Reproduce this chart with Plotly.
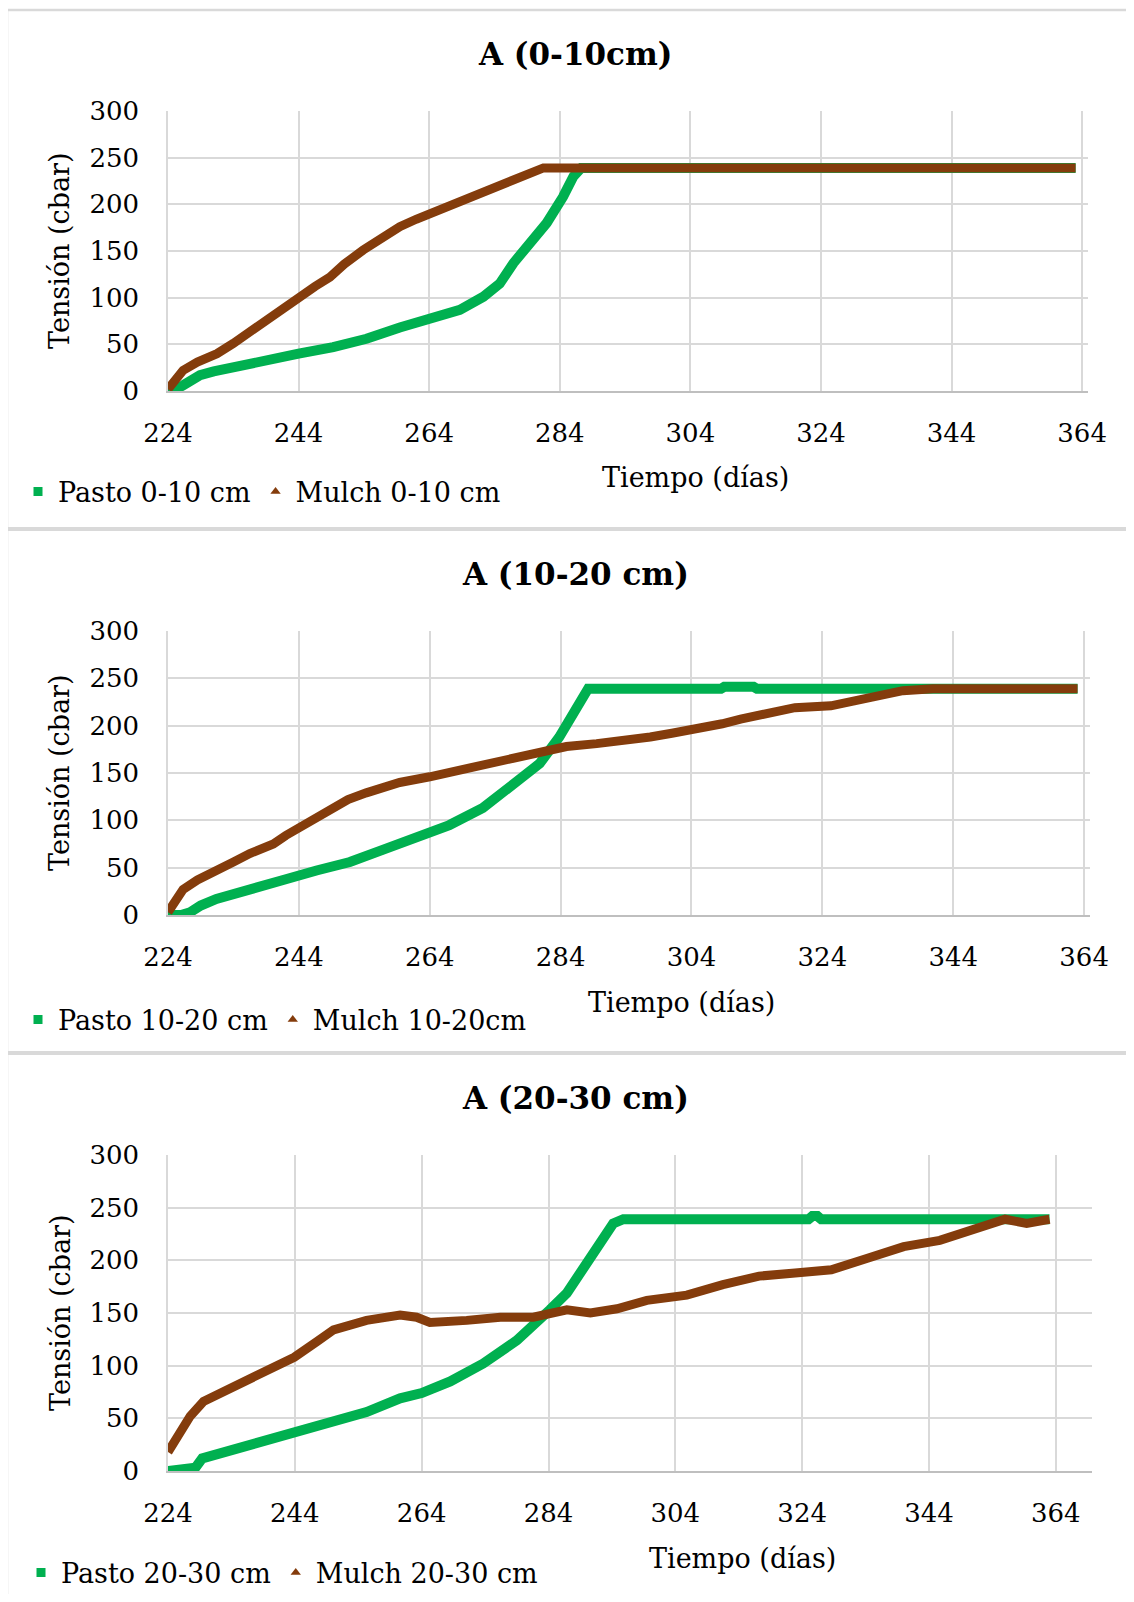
import plotly.graph_objects as go

# ---------------- data ----------------
# Panel A (0-10 cm)
pasto_0_10_day = [224, 225, 226.3, 228.9, 231, 234, 238, 241, 244, 249.3, 254.4, 259.5, 264.1, 268.7,
                  272.3, 274.8, 276.9, 278.9, 282, 284.5, 286.1, 287.3, 304, 304.5, 309, 309.5, 363]
pasto_0_10_val = [2, 1, 6, 17, 21, 26, 31, 36, 40, 47, 56, 68, 77, 87,
                  101, 115, 137, 155, 180, 208, 230, 239, 239, 241, 241, 239, 239]
mulch_0_10_day = [224, 225, 226.3, 228.5, 231.5, 234, 236.6, 239.1, 241.5, 244, 246.5, 248.8, 251, 253.9,
                  256.5, 259.5, 262, 264.1, 268.2, 272.3, 275, 277.4, 279.5, 281.5, 363]
mulch_0_10_val = [2, 12, 22, 31, 40, 51, 64, 74, 87, 101, 112, 122, 136, 151,
                  163, 176, 184, 190, 201, 212, 219, 228, 234, 239, 239]

# Panel A (10-20 cm)
pasto_10_20_day = [224, 226, 227.4, 229, 231.4, 236.5, 241.6, 246.7, 251.8, 256.9, 262, 267, 272.1, 277.2,
                   280.8, 283.8, 286.4, 288.2, 308.5, 309, 313.5, 314, 363]
pasto_10_20_val = [0, 0, 3, 10, 17, 26, 37, 47, 56, 69, 82, 95, 113, 139,
                   160, 188, 216, 239, 239, 241, 241, 239, 239]
mulch_10_20_day = [224, 225, 226.3, 228.5, 231.4, 234, 236.5, 240.1, 242, 244.2, 246.5, 249.2, 251.5, 254.3,
                   257, 259.4, 264, 269.6, 274.7, 279.8, 284.9, 289.5, 293, 297.7, 301, 304, 306, 308.7,
                   311.5, 314.3, 317, 319.8, 325.3, 328, 330.8, 333.5, 336.3, 340.9, 363]
mulch_10_20_val = [3, 14, 27, 37, 46, 56, 65, 75, 84, 93, 104, 114, 122, 129,
                   135, 140, 146, 155, 164, 172, 178, 181, 183, 188, 192, 196, 197, 202,
                   207, 211, 214, 219, 221, 225, 230, 233, 237, 239, 239]

# Panel A (20-30 cm)
pasto_20_30_day = [224, 227.7, 228.3, 229.4, 234.3, 239.6, 243.9, 250.1, 255.3, 260.6, 264, 268.5, 273.7,
                   279, 281.6, 284.2, 286.9, 289.5, 292.1, 294.2, 295.8, 325, 325.6, 326.4, 327, 363]
pasto_20_30_val = [0, 1, 3, 12, 20, 29, 35, 47, 56, 69, 74, 85, 102,
                   124, 137, 153, 169, 194, 216, 235, 239, 239, 242, 242, 239, 239]
mulch_20_30_day = [224, 225.9, 227.5, 229.6, 234.3, 239.6, 243.9, 247.5, 250.1, 255.3, 260.6, 263.2, 265.3,
                   271.1, 276.4, 281.6, 286.9, 290.6, 294.8, 299.5, 305.8, 311.5, 317.2, 322.9, 328.6,
                   334.3, 340, 345.7, 351.4, 356, 359.4, 362.3, 363]
mulch_20_30_val = [18, 36, 52, 66, 80, 96, 108, 123, 134, 143, 148, 146, 141,
                   143, 146, 146, 153, 150, 154, 162, 167, 177, 185, 188, 191,
                   202, 213, 219, 229, 239, 235, 239, 239]

titles = ["A (0-10cm)", "A (10-20 cm)", "A (20-30 cm)"]
pasto_names = ["Pasto 0-10 cm", "Pasto 10-20 cm", "Pasto 20-30 cm"]
mulch_names = ["Mulch 0-10 cm", "Mulch 10-20cm", "Mulch 20-30 cm"]
x_ticks = [224, 244, 264, 284, 304, 324, 344, 364]
y_ticks = [0, 50, 100, 150, 200, 250, 300]

series = [
    (pasto_0_10_day, pasto_0_10_val, mulch_0_10_day, mulch_0_10_val),
    (pasto_10_20_day, pasto_10_20_val, mulch_10_20_day, mulch_10_20_val),
    (pasto_20_30_day, pasto_20_30_val, mulch_20_30_day, mulch_20_30_val),
]

# ---------------- layout geometry (page pixels) ----------------
PAGE_OFF = 8            # default body margin of the html page
W, H = 1134 - 2 * PAGE_OFF, 1602 - 2 * PAGE_OFF
GREEN = "#00B050"
BROWN = "#843C0C"
GRID = "#D9D9D9"
FONT = "DejaVu Serif"

geo = [
    dict(l=168, r=1088, t=111, b=391, xmax=364.9, ty=54, xtx=695, xty=478, ly=492, lx=18),
    dict(l=168, r=1090, t=631, b=915, xmax=364.9, ty=574, xtx=681, xty=1002, ly=1020, lx=18),
    dict(l=168, r=1092, t=1155, b=1471, xmax=369.7, ty=1098, xtx=742, xty=1558, ly=1573, lx=21),
]


def px(x):
    return (x - PAGE_OFF) / W


def py(y):
    return 1 - (y - PAGE_OFF) / H


fig = go.Figure()
annotations = []
layout_axes = {}

for i, (g, (pd_, pv, md, mv)) in enumerate(zip(geo, series)):
    n = "" if i == 0 else str(i + 1)
    xa, ya = "x" + n, "y" + n
    leg = "legend" + n
    fig.add_trace(go.Scatter(x=pd_, y=pv, mode="lines", line=dict(color=GREEN, width=10),
                             xaxis=xa, yaxis=ya, showlegend=False, name=pasto_names[i]))
    fig.add_trace(go.Scatter(x=md, y=mv, mode="lines", line=dict(color=BROWN, width=9),
                             xaxis=xa, yaxis=ya, showlegend=False, name=mulch_names[i]))
    # legend entries
    fig.add_trace(go.Scatter(x=[None], y=[None], mode="markers", name=pasto_names[i],
                             marker=dict(symbol="square", size=9, color=GREEN),
                             xaxis=xa, yaxis=ya, legend=leg))
    fig.add_trace(go.Scatter(x=[None], y=[None], mode="markers", name=mulch_names[i],
                             marker=dict(symbol="triangle-up", size=9, color=BROWN),
                             xaxis=xa, yaxis=ya, legend=leg))

    layout_axes["xaxis" + n] = dict(
        domain=[px(g["l"]), px(g["r"])], anchor=ya, range=[224, g["xmax"]],
        tickmode="array", tickvals=x_ticks, ticktext=[str(v) for v in x_ticks],
        showgrid=True, gridcolor=GRID, gridwidth=1.5, zeroline=False,
        showline=True, linecolor="#BFBFBF", linewidth=2,
        ticks="", ticklabelstandoff=18, automargin=False,
        tickfont=dict(family=FONT, size=26, color="#000"),
    )
    layout_axes["yaxis" + n] = dict(
        domain=[py(g["b"]), py(g["t"])], anchor=xa, range=[0, 300],
        tickmode="array", tickvals=y_ticks, ticktext=[str(v) for v in y_ticks],
        showgrid=True, gridcolor=GRID, gridwidth=1.5, zeroline=False,
        showline=True, linecolor=GRID, linewidth=1.5,
        ticks="", ticklabelstandoff=22, automargin=False,
        tickfont=dict(family=FONT, size=26, color="#000"),
    )
    layout_axes[leg] = dict(
        orientation="h", x=px(g["lx"]), y=py(g["ly"]), xanchor="left", yanchor="middle",
        font=dict(family=FONT, size=27, color="#000"), bgcolor="rgba(0,0,0,0)",
        itemwidth=30, tracegroupgap=0,
    )
    # titles
    annotations.append(dict(text=titles[i], x=px(575), y=py(g["ty"]), xref="paper", yref="paper",
                            xanchor="center", yanchor="middle", showarrow=False,
                            font=dict(family=FONT, size=31, color="#000", weight="bold")))
    annotations.append(dict(text="Tiempo (días)", x=px(g["xtx"]), y=py(g["xty"]), xref="paper", yref="paper",
                            xanchor="center", yanchor="middle", showarrow=False,
                            font=dict(family=FONT, size=27, color="#000")))
    annotations.append(dict(text="Tensión (cbar)", x=px(60), y=py((g["t"] + g["b"]) / 2),
                            xref="paper", yref="paper", textangle=-90,
                            xanchor="center", yanchor="middle", showarrow=False,
                            font=dict(family=FONT, size=27, color="#000")))

# panel frames
shapes = [
    dict(type="line", xref="paper", yref="paper", x0=px(6), x1=1.0, y0=py(10), y1=py(10),
         line=dict(color=GRID, width=2.5)),
    dict(type="line", xref="paper", yref="paper", x0=px(7), x1=px(7), y0=py(9), y1=0,
         line=dict(color=GRID, width=2.5)),
    dict(type="line", xref="paper", yref="paper", x0=px(6), x1=1.0, y0=py(529), y1=py(529),
         line=dict(color=GRID, width=4)),
    dict(type="line", xref="paper", yref="paper", x0=px(6), x1=1.0, y0=py(1053), y1=py(1053),
         line=dict(color=GRID, width=4)),
]

fig.update_layout(
    width=W, height=H, margin=dict(l=0, r=0, t=0, b=0, pad=0, autoexpand=False),
    paper_bgcolor="white", plot_bgcolor="white",
    annotations=annotations, shapes=shapes,
    **layout_axes,
)

fig.write_html("out.html")
